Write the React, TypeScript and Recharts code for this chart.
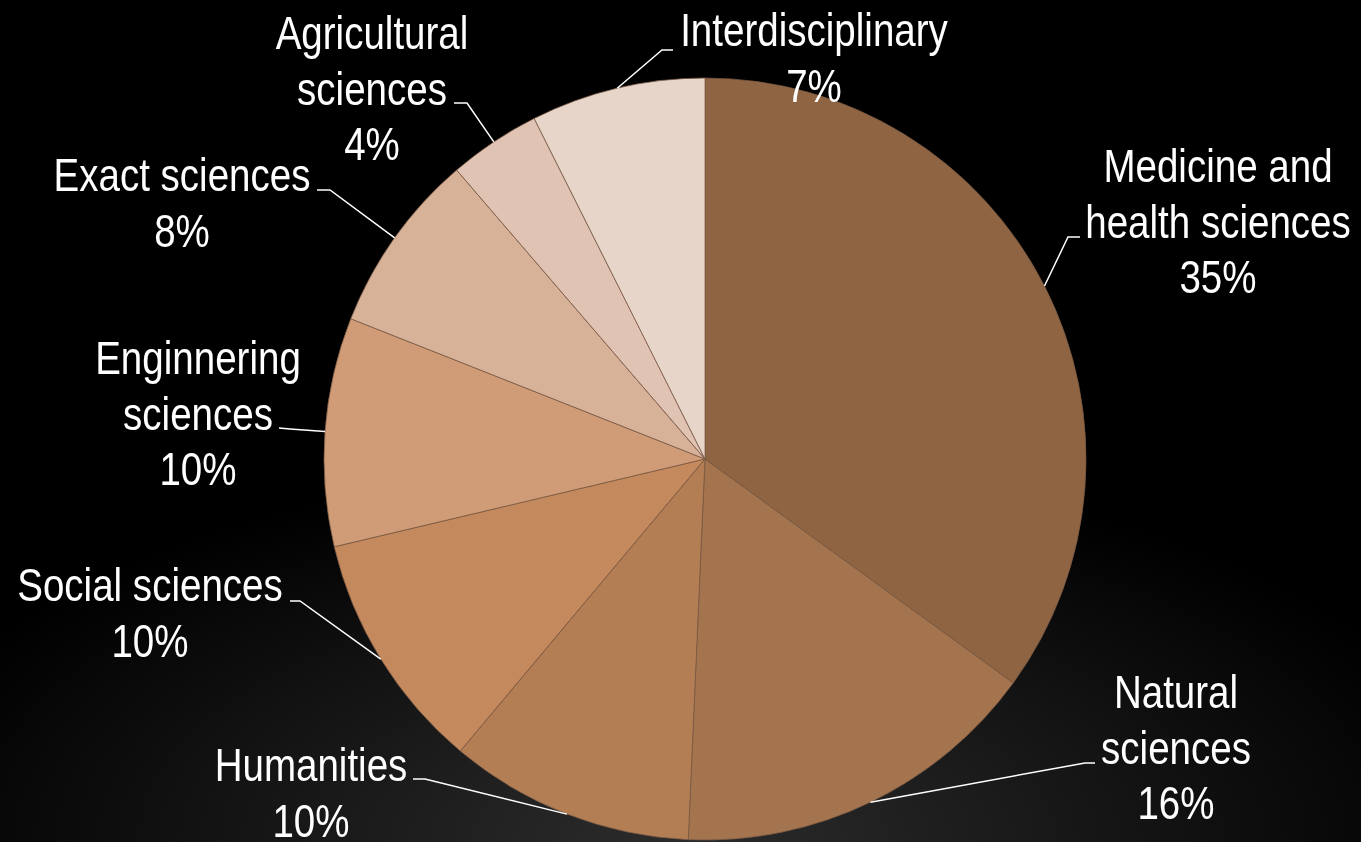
import { PieChart, Pie, Cell } from "recharts";

// Categories (line breaks follow the reference labels)
const categories = [
  "Medicine and\nhealth sciences",
  "Natural\nsciences",
  "Humanities",
  "Social sciences",
  "Enginnering\nsciences",
  "Exact sciences",
  "Agricultural\nsciences",
  "Interdisciplinary",
];

// Share of each field, in percent
const shares = [35.0, 15.7, 10.4, 10.2, 9.7, 7.7, 3.9, 7.4];

const sliceColors = [
  "#8F6443",
  "#A3744E",
  "#B47E55",
  "#C4895C",
  "#CF9C77",
  "#D8B199",
  "#E0C3B3",
  "#E8D5CA",
];

// Label placement relative to the pie centre: text block anchor, leader elbow, leader end
const labelLayout = [
  { text: [513, -293], elbow: [363, -222], end: [375, -222] },
  { text: [471, 233], elbow: [380, 304], end: [390, 304] },
  { text: [-394, 306], elbow: [-280, 320], end: [-292, 320] },
  { text: [-555, 126], elbow: [-405, 142], end: [-415, 142] },
  { text: [-507, -101], elbow: [-415, -30], end: [-426, -31] },
  { text: [-523, -284], elbow: [-375, -269], end: [-388, -269] },
  { text: [-333, -426], elbow: [-238, -356], end: [-251, -356] },
  { text: [109, -429], elbow: [-43, -409], end: [-32, -409] },
];

const data = categories.map((name, i) => ({ name, value: shares[i] }));

const RAD = Math.PI / 180;
// no narrow face installed, so Liberation Sans is squeezed horizontally
const FONT = "'Liberation Sans', Arial, sans-serif";
const NARROW = 0.82;
const LINE_H = 55.5;

const renderLabel = (props: any) => {
  const { cx, cy, midAngle, outerRadius, percent, index } = props;
  const layout = labelLayout[index];
  const sx = cx + outerRadius * Math.cos(-midAngle * RAD);
  const sy = cy + outerRadius * Math.sin(-midAngle * RAD);
  const lines = [...categories[index].split("\n"), `${Math.round(percent * 100)}%`];
  const tx = cx + layout.text[0];
  const ty = cy + layout.text[1];
  return (
    <g key={`label-${index}`}>
      <polyline
        points={`${sx},${sy} ${cx + layout.elbow[0]},${cy + layout.elbow[1]} ${cx + layout.end[0]},${cy + layout.end[1]}`}
        fill="none"
        stroke="#ffffff"
        strokeWidth={1.5}
      />
      <text
        transform={`translate(${tx},${ty}) scale(${NARROW},1)`}
        x={0}
        y={0}
        fill="#ffffff"
        textAnchor="middle"
        fontFamily={FONT}
        fontSize={47}
      >
        {lines.map((line, i) => (
          <tspan key={i} x={0} y={i * LINE_H} dominantBaseline="central">
            {line}
          </tspan>
        ))}
      </text>
    </g>
  );
};

export default function App() {
  return (
    <div
      style={{
        position: "fixed",
        left: 0,
        top: 0,
        width: 1361,
        height: 842,
        overflow: "hidden",
        background:
          "radial-gradient(ellipse 60% 45% at 50% 100%, #2c2c2c 0%, #141414 55%, #000000 100%)",
      }}
    >
      <PieChart width={1361} height={842} margin={{ top: 0, right: 0, bottom: 0, left: 0 }}>
        <Pie
          data={data}
          dataKey="value"
          nameKey="name"
          cx={705}
          cy={459}
          outerRadius={381}
          startAngle={90}
          endAngle={-270}
          stroke="#7a5a44"
          strokeWidth={0.75}
          label={renderLabel}
          labelLine={false}
          isAnimationActive={false}
        >
          {data.map((entry, index) => (
            <Cell key={`cell-${index}`} fill={sliceColors[index]} />
          ))}
        </Pie>
      </PieChart>
    </div>
  );
}
